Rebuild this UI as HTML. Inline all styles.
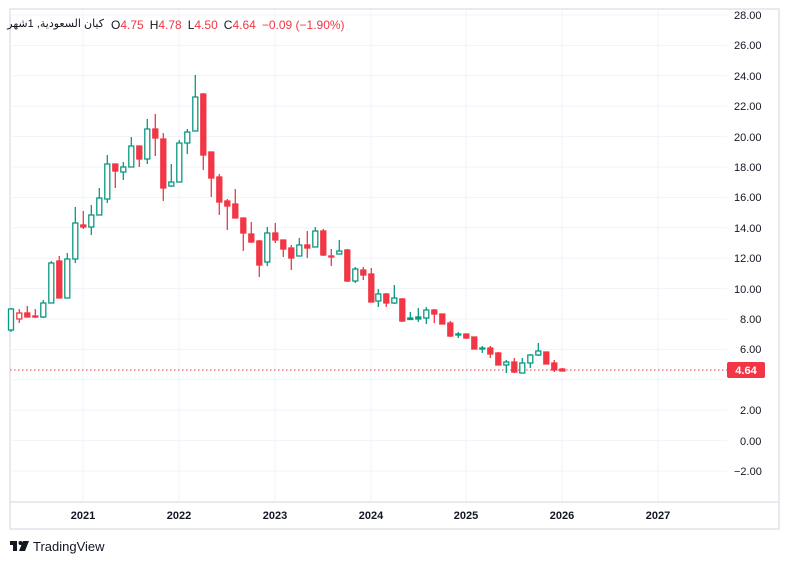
<!DOCTYPE html><html><head><meta charset="utf-8"><style>
body{margin:0;background:#fff;width:789px;height:564px;overflow:hidden;font-family:"Liberation Sans","Noto Sans CJK SC",sans-serif;position:relative}
#ar{position:absolute;right:685px;top:17px;font-size:11px;color:#131722;direction:rtl;white-space:nowrap;font-family:"Liberation Sans","DejaVu Sans",sans-serif;line-height:14px;letter-spacing:-0.3px}
</style></head><body>
<svg width="789" height="564" xmlns="http://www.w3.org/2000/svg" font-family="Liberation Sans, DejaVu Sans, sans-serif" style="position:absolute;left:0;top:0">
<rect x="10" y="9" width="769" height="520" fill="#fff" stroke="#e0e3eb" stroke-width="1.5"/>
<g stroke="#f0f3fa" stroke-width="1">
<line x1="10" x2="727" y1="15" y2="15"/><line x1="10" x2="727" y1="45.4" y2="45.4"/><line x1="10" x2="727" y1="75.8" y2="75.8"/><line x1="10" x2="727" y1="106.2" y2="106.2"/><line x1="10" x2="727" y1="136.6" y2="136.6"/><line x1="10" x2="727" y1="167" y2="167"/><line x1="10" x2="727" y1="197.4" y2="197.4"/><line x1="10" x2="727" y1="227.8" y2="227.8"/><line x1="10" x2="727" y1="258.2" y2="258.2"/><line x1="10" x2="727" y1="288.6" y2="288.6"/><line x1="10" x2="727" y1="319" y2="319"/><line x1="10" x2="727" y1="349.4" y2="349.4"/><line x1="10" x2="727" y1="379.8" y2="379.8"/><line x1="10" x2="727" y1="410.2" y2="410.2"/><line x1="10" x2="727" y1="440.6" y2="440.6"/><line x1="10" x2="727" y1="471" y2="471"/>
<line x1="83" x2="83" y1="9" y2="502"/><line x1="179" x2="179" y1="9" y2="502"/><line x1="275" x2="275" y1="9" y2="502"/><line x1="371" x2="371" y1="9" y2="502"/><line x1="466" x2="466" y1="9" y2="502"/><line x1="562" x2="562" y1="9" y2="502"/><line x1="658" x2="658" y1="9" y2="502"/>
</g>
<line x1="10" x2="779" y1="502" y2="502" stroke="#e0e3eb" stroke-width="1.5"/>
<g font-size="11" fill="#131722" text-anchor="start">
<text x="734" y="19">28.00</text><text x="734" y="49">26.00</text><text x="734" y="80">24.00</text><text x="734" y="110">22.00</text><text x="734" y="141">20.00</text><text x="734" y="171">18.00</text><text x="734" y="201">16.00</text><text x="734" y="232">14.00</text><text x="734" y="262">12.00</text><text x="734" y="293">10.00</text><text x="740" y="323">8.00</text><text x="740" y="353">6.00</text><text x="740" y="414">2.00</text><text x="740" y="445">0.00</text><text x="734" y="475">−2.00</text>
</g>
<g font-size="11" font-weight="bold" fill="#131722" text-anchor="middle">
<text x="83" y="519">2021</text><text x="179" y="519">2022</text><text x="275" y="519">2023</text><text x="371" y="519">2024</text><text x="466" y="519">2025</text><text x="562" y="519">2026</text><text x="658" y="519">2027</text>
</g>
<line x1="10" x2="727" y1="370" y2="370" stroke="#f23645" stroke-width="1" stroke-dasharray="1.5,2.5"/>
<rect x="727" y="362" width="38" height="16" rx="2" fill="#f23645"/>
<text x="746" y="374" font-size="11" font-weight="bold" fill="#fff" text-anchor="middle">4.64</text>
<g stroke-width="1.3">
<g stroke="#089981" fill="#fff">
<line x1="11" x2="11" y1="308" y2="332"/><rect x="8.5" y="309" width="5" height="21"/>
<line x1="43.3" x2="43.3" y1="300" y2="318"/><rect x="40.8" y="303" width="5" height="14"/>
<line x1="51.3" x2="51.3" y1="261" y2="303"/><rect x="48.8" y="263" width="5" height="40"/>
<line x1="67.3" x2="67.3" y1="253" y2="298"/><rect x="64.8" y="259" width="5" height="39"/>
<line x1="75.3" x2="75.3" y1="207" y2="263"/><rect x="72.8" y="223" width="5" height="36"/>
<line x1="91.3" x2="91.3" y1="205" y2="235"/><rect x="88.8" y="215" width="5" height="12"/>
<line x1="99.3" x2="99.3" y1="188" y2="215"/><rect x="96.8" y="198" width="5" height="17"/>
<line x1="107.3" x2="107.3" y1="155" y2="203"/><rect x="104.8" y="164" width="5" height="35"/>
<line x1="123.3" x2="123.3" y1="162" y2="180"/><rect x="120.8" y="167" width="5" height="5"/>
<line x1="131.3" x2="131.3" y1="137" y2="167"/><rect x="128.8" y="146" width="5" height="21"/>
<line x1="147.3" x2="147.3" y1="119" y2="164"/><rect x="144.8" y="129" width="5" height="30"/>
<line x1="171.3" x2="171.3" y1="164" y2="187"/><rect x="168.8" y="182" width="5" height="4"/>
<line x1="179.3" x2="179.3" y1="140" y2="182"/><rect x="176.8" y="143" width="5" height="39"/>
<line x1="187.3" x2="187.3" y1="129" y2="154"/><rect x="184.8" y="132" width="5" height="11"/>
<line x1="195.3" x2="195.3" y1="75" y2="131"/><rect x="192.8" y="97" width="5" height="34"/>
<line x1="267.3" x2="267.3" y1="227" y2="266"/><rect x="264.8" y="233" width="5" height="29"/>
<line x1="299.3" x2="299.3" y1="238" y2="256"/><rect x="296.8" y="245" width="5" height="11"/>
<line x1="315.3" x2="315.3" y1="227" y2="247"/><rect x="312.8" y="231" width="5" height="16"/>
<line x1="339.3" x2="339.3" y1="240" y2="254"/><rect x="336.8" y="251" width="5" height="3"/>
<line x1="355.3" x2="355.3" y1="267" y2="283"/><rect x="352.8" y="269" width="5" height="12"/>
<line x1="378.3" x2="378.3" y1="289" y2="307"/><rect x="375.8" y="294" width="5" height="7"/>
<line x1="394.3" x2="394.3" y1="285" y2="304"/><rect x="391.8" y="298" width="5" height="5"/>
<line x1="426.3" x2="426.3" y1="307" y2="324"/><rect x="423.8" y="310" width="5" height="8"/>
<line x1="506.3" x2="506.3" y1="360" y2="373"/><rect x="503.8" y="362" width="5" height="3"/>
<line x1="522.3" x2="522.3" y1="358" y2="373"/><rect x="519.8" y="363" width="5" height="10"/>
<line x1="530.3" x2="530.3" y1="354" y2="368"/><rect x="527.8" y="355" width="5" height="8"/>
<line x1="538.3" x2="538.3" y1="343" y2="356"/><rect x="535.8" y="351" width="5" height="4"/>
</g>
<g stroke="#089981" fill="#089981">
<line x1="410.3" x2="410.3" y1="312" y2="319"/><rect x="407.8" y="318" width="5" height="1.5"/>
<line x1="418.3" x2="418.3" y1="308" y2="322"/><rect x="415.8" y="317" width="5" height="2"/>
<line x1="458.3" x2="458.3" y1="332" y2="338"/><rect x="455.8" y="334" width="5" height="1"/>
<line x1="482.3" x2="482.3" y1="346" y2="353"/><rect x="479.8" y="348" width="5" height="1"/>
</g>
<g stroke="#f23645" fill="#f23645">
<line x1="19.3" x2="19.3" y1="309" y2="323"/><rect x="16.8" y="313" width="5" height="6" fill="#fff"/>
<line x1="27.3" x2="27.3" y1="306" y2="317"/><rect x="24.8" y="313" width="5" height="4"/>
<line x1="35.3" x2="35.3" y1="309" y2="318"/><rect x="32.8" y="316" width="5" height="1"/>
<line x1="59.3" x2="59.3" y1="256" y2="298"/><rect x="56.8" y="261" width="5" height="37"/>
<line x1="83.3" x2="83.3" y1="211" y2="229"/><rect x="80.8" y="225" width="5" height="2"/>
<line x1="115.3" x2="115.3" y1="164" y2="188"/><rect x="112.8" y="164" width="5" height="7"/>
<line x1="139.3" x2="139.3" y1="146" y2="167"/><rect x="136.8" y="146" width="5" height="13"/>
<line x1="155.3" x2="155.3" y1="114" y2="156"/><rect x="152.8" y="129" width="5" height="9"/>
<line x1="163.3" x2="163.3" y1="133" y2="201"/><rect x="160.8" y="139" width="5" height="49"/>
<line x1="203.3" x2="203.3" y1="93" y2="170"/><rect x="200.8" y="94" width="5" height="61"/>
<line x1="211.3" x2="211.3" y1="152" y2="197"/><rect x="208.8" y="152" width="5" height="26"/>
<line x1="219.3" x2="219.3" y1="174" y2="215"/><rect x="216.8" y="177" width="5" height="25"/>
<line x1="227.3" x2="227.3" y1="199" y2="230"/><rect x="224.8" y="201" width="5" height="5"/>
<line x1="235.3" x2="235.3" y1="189" y2="218"/><rect x="232.8" y="204" width="5" height="14"/>
<line x1="243.3" x2="243.3" y1="218" y2="251"/><rect x="240.8" y="218" width="5" height="15"/>
<line x1="251.3" x2="251.3" y1="222" y2="243"/><rect x="248.8" y="234" width="5" height="8"/>
<line x1="259.3" x2="259.3" y1="240" y2="277"/><rect x="256.8" y="241" width="5" height="24"/>
<line x1="275.3" x2="275.3" y1="223" y2="243"/><rect x="272.8" y="233" width="5" height="7"/>
<line x1="283.3" x2="283.3" y1="240" y2="257"/><rect x="280.8" y="240" width="5" height="9"/>
<line x1="291.3" x2="291.3" y1="245" y2="270"/><rect x="288.8" y="248" width="5" height="10"/>
<line x1="307.3" x2="307.3" y1="231" y2="258"/><rect x="304.8" y="245" width="5" height="3"/>
<line x1="323.3" x2="323.3" y1="229" y2="256"/><rect x="320.8" y="231" width="5" height="24"/>
<line x1="331.3" x2="331.3" y1="249" y2="266"/><rect x="328.8" y="256" width="5" height="1"/>
<line x1="347.3" x2="347.3" y1="249" y2="282"/><rect x="344.8" y="250" width="5" height="31"/>
<line x1="363.3" x2="363.3" y1="267" y2="280"/><rect x="360.8" y="270" width="5" height="5"/>
<line x1="371.3" x2="371.3" y1="268" y2="302"/><rect x="368.8" y="274" width="5" height="28"/>
<line x1="386.3" x2="386.3" y1="293" y2="307"/><rect x="383.8" y="294" width="5" height="9"/>
<line x1="402.3" x2="402.3" y1="298" y2="322"/><rect x="399.8" y="299" width="5" height="22"/>
<line x1="434.3" x2="434.3" y1="309" y2="323"/><rect x="431.8" y="310" width="5" height="4"/>
<line x1="442.3" x2="442.3" y1="314" y2="324"/><rect x="439.8" y="314" width="5" height="10"/>
<line x1="450.3" x2="450.3" y1="321" y2="337"/><rect x="447.8" y="323" width="5" height="13"/>
<line x1="466.3" x2="466.3" y1="334" y2="339"/><rect x="463.8" y="334" width="5" height="4"/>
<line x1="474.3" x2="474.3" y1="337" y2="349"/><rect x="471.8" y="337" width="5" height="12"/>
<line x1="490.3" x2="490.3" y1="346" y2="358"/><rect x="487.8" y="348" width="5" height="6"/>
<line x1="498.3" x2="498.3" y1="352" y2="365"/><rect x="495.8" y="353" width="5" height="12"/>
<line x1="514.3" x2="514.3" y1="358" y2="373"/><rect x="511.8" y="362" width="5" height="10"/>
<line x1="546.3" x2="546.3" y1="352" y2="364"/><rect x="543.8" y="352" width="5" height="12"/>
<line x1="554.3" x2="554.3" y1="360" y2="372"/><rect x="551.8" y="363" width="5" height="7"/>
<line x1="562.3" x2="562.3" y1="368" y2="371"/><rect x="559.8" y="369" width="5" height="2"/>
</g>
</g>
<text x="111" y="29" font-size="12" fill="#131722"><tspan>O</tspan><tspan fill="#f23645">4.75</tspan><tspan dx="6">H</tspan><tspan fill="#f23645">4.78</tspan><tspan dx="6">L</tspan><tspan fill="#f23645">4.50</tspan><tspan dx="6">C</tspan><tspan fill="#f23645">4.64</tspan><tspan dx="6" fill="#f23645">−0.09 (−1.90%)</tspan></text>
<g fill="#131722"><rect x="10" y="541" width="7" height="4"/><rect x="13" y="541" width="4" height="10"/><circle cx="20.5" cy="543" r="2"/><polygon points="23,541 29,541 25,551 19,551"/></g>
<text x="33" y="551" font-size="13" fill="#131722">TradingView</text>
</svg>
<div id="ar">كيان السعودية, 1شهر</div>
</body></html>
